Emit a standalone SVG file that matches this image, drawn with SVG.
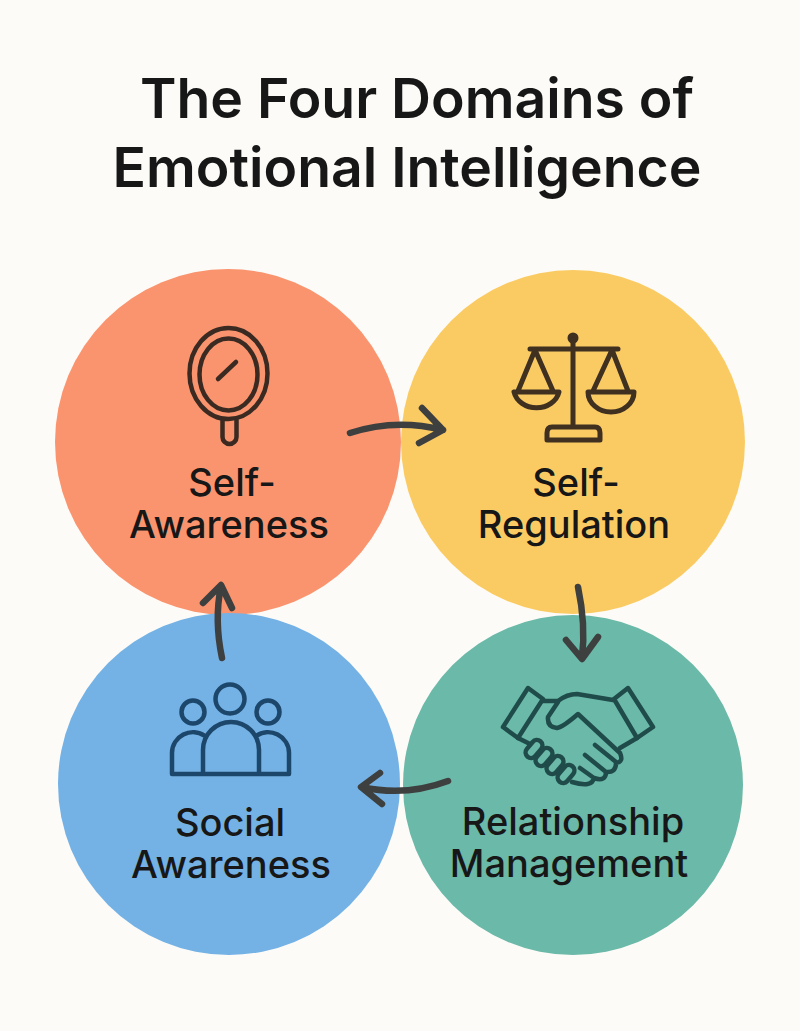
<svg xmlns="http://www.w3.org/2000/svg" width="800" height="1031" viewBox="0 0 800 1031">
<style>
text{font-family:"Inter","Liberation Sans",sans-serif;text-anchor:middle;fill:#171717}
.t{font-size:55.3px;font-weight:600}
.l{font-size:38px;font-weight:500}
.i{fill:none;stroke-width:4.5;stroke-linecap:round;stroke-linejoin:round}
.a{fill:none;stroke:#3e4040;stroke-width:6.5;stroke-linecap:round;stroke-linejoin:round}
</style>
<rect width="800" height="1031" fill="#FDFBF7"/>
<g id="title"><text class="t" x="417" y="118">The Four Domains of</text><text class="t" x="407" y="187">Emotional Intelligence</text></g>
<g id="self-awareness">
<circle cx="228" cy="442" r="173" fill="#FA946E"/>
<g class="i" stroke="#3a2a22"><ellipse cx="228.5" cy="373.5" rx="39" ry="45.5"/><ellipse cx="228.5" cy="374.5" rx="29" ry="36"/><path d="M218 379L236 362M222.5 420V437a7 7 0 0 0 14 0V420"/></g>
<text class="l" x="232" y="496">Self-</text><text class="l" x="229" y="538">Awareness</text>
</g>
<g id="self-regulation">
<circle cx="573" cy="442" r="172" fill="#FBCB63"/>
<g class="i" stroke="#3f3020" style="stroke-width:5"><circle cx="573" cy="338" r="3" fill="#3f3020"/><path d="M573 340V426M530 349H618M535 350L518 391M535 350L553 391M612 350L593 391M612 350L628 391M514 392H559A23 20 0 0 1 514 392ZM588 392H634A23 20 0 0 1 588 392Z"/><path d="M552 427H595Q600 427 600 433V440H547V433Q547 427 552 427Z"/></g>
<text class="l" x="576" y="496">Self-</text><text class="l" x="574" y="538">Regulation</text>
</g>
<g id="relationship-management">
<circle cx="573" cy="785" r="170" fill="#6BB9A8"/>
<g class="i" stroke="#1f4c4a"><path d="M528 688L543 699L518 738L503 727ZM628 688L614 699L637 738L653 727Z"/>
<path d="M543 701H558Q567 694 577 694L613 700M558 702L548 717Q547 727 557 728Q563 727 578 714L620 753Q624 762 616 763Q616 773 606 772Q606 782 594 778Q592 788 572 782M637 738L620 748M595 745L616 762M585 755L606 772M580 768L594 778M518 738L530 744"/>
<rect x="-5.5" y="-10" width="11" height="20" rx="5.5" transform="translate(534 749) rotate(40)"/><rect x="-5.5" y="-10" width="11" height="20" rx="5.5" transform="translate(544 757) rotate(40)"/><rect x="-5.5" y="-10" width="11" height="20" rx="5.5" transform="translate(555 765) rotate(40)"/><rect x="-5.5" y="-10" width="11" height="20" rx="5.5" transform="translate(566 774) rotate(40)"/></g>
<text class="l" x="573" y="835">Relationship</text><text class="l" x="569" y="877">Management</text>
</g>
<g id="social-awareness">
<circle cx="229" cy="784" r="171" fill="#74B2E5"/>
<g class="i" stroke="#1d466b"><circle cx="230" cy="699" r="14.5"/><circle cx="193" cy="712" r="11.5"/><circle cx="268" cy="712" r="11.5"/><path d="M203 774V750a28 28 0 0 1 56 0V774M172 774H289M172 774V753A21 21 0 0 1 205 736M289 774V753A21 21 0 0 0 256 736"/></g>
<text class="l" x="230" y="836">Social</text><text class="l" x="231" y="878">Awareness</text>
</g>
<g id="connectors">
<path class="a" d="M350 433Q395 418 443 430M422 408L443 430L419 443"/>
<path class="a" d="M578 587Q586 625 582 657M566 640L582 659L598 637"/>
<path class="a" d="M448 781Q405 797 362 787M380 773L361 787L382 804"/>
<path class="a" d="M222 658Q214 620 221 586M203 603L221 585L232 608"/>
</g>
</svg>
